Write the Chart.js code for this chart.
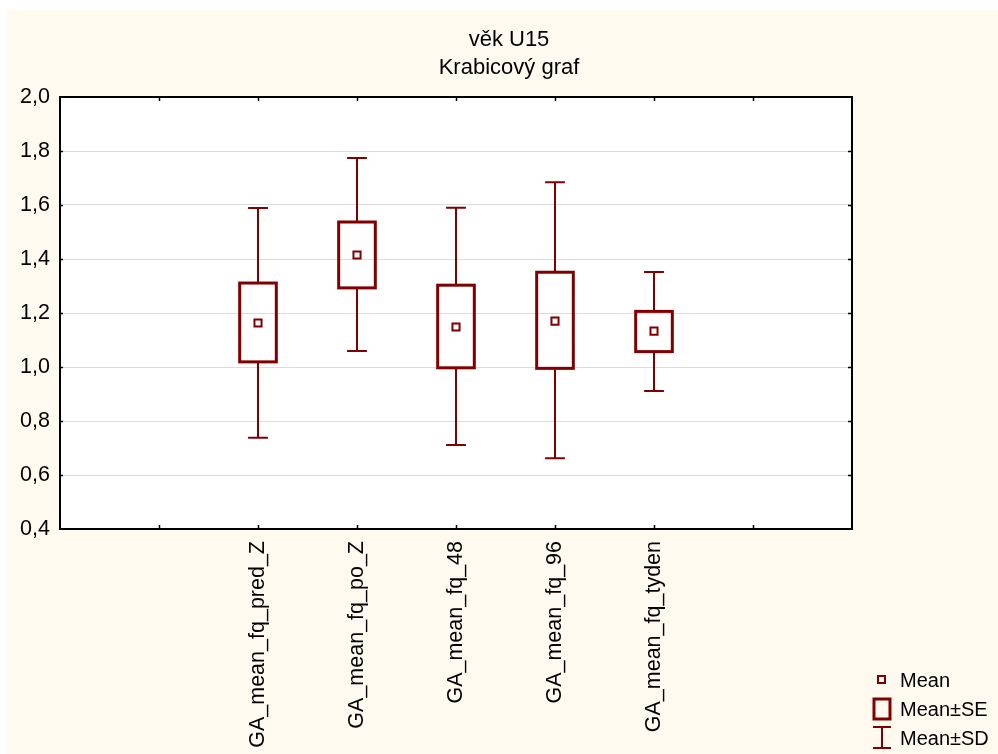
<!DOCTYPE html>
<html>
<head>
<meta charset="utf-8">
<script src="https://cdn.jsdelivr.net/npm/chart.js@4/dist/chart.umd.min.js"></script>
<style>
html,body{margin:0;padding:0;background:#fff;}
canvas{display:block;}
</style>
</head>
<body>
<canvas id="c" width="998" height="754"></canvas>
<script>
// ---- data ----
const categories = ["GA_mean_fq_pred_Z","GA_mean_fq_po_Z","GA_mean_fq_48","GA_mean_fq_96","GA_mean_fq_tyden"];
const means   = [1.163, 1.415, 1.148, 1.170, 1.133];
const seLow   = [1.019, 1.293, 0.997, 0.995, 1.057];
const seHigh  = [1.311, 1.537, 1.303, 1.351, 1.206];
const sdLow   = [0.738, 1.059, 0.711, 0.662, 0.911];
const sdHigh  = [1.589, 1.774, 1.590, 1.684, 1.352];
const titleLines = ["věk U15","Krabicový graf"];
const legendLabels = ["Mean","Mean±SE","Mean±SD"];
const yTicks = [0.4,0.6,0.8,1.0,1.2,1.4,1.6,1.8,2.0];

const RED = '#800000';
const FONT = '"Liberation Sans", Arial, sans-serif';

const boxPlugin = {
  id: 'boxPlugin',
  beforeDraw(chart) {
    const ctx = chart.ctx, a = chart.chartArea;
    ctx.save();
    ctx.fillStyle = '#ffffff';
    ctx.fillRect(0, 0, chart.width, chart.height);
    ctx.fillStyle = '#FFFAF0';
    ctx.fillRect(7, 10, chart.width - 7, chart.height - 10);
    ctx.fillStyle = '#ffffff';
    ctx.fillRect(a.left, a.top, a.right - a.left, a.bottom - a.top);
    ctx.restore();
  },
  beforeDatasetsDraw(chart) {
    const ctx = chart.ctx, xs = chart.scales.x, ys = chart.scales.y;
    ctx.save();
    ctx.strokeStyle = RED;
    categories.forEach((c, i) => {
      const x = xs.getPixelForValue(i);
      const hw = xs.getPixelForValue(i + 0.185) - x;
      const cw = xs.getPixelForValue(i + 0.1) - x;
      const yTop = ys.getPixelForValue(sdHigh[i]);
      const yBot = ys.getPixelForValue(sdLow[i]);
      const yS1 = ys.getPixelForValue(seHigh[i]);
      const yS0 = ys.getPixelForValue(seLow[i]);
      // whiskers
      ctx.lineWidth = 2;
      ctx.beginPath();
      ctx.moveTo(x, yTop); ctx.lineTo(x, yS1);
      ctx.moveTo(x, yS0); ctx.lineTo(x, yBot);
      ctx.moveTo(x - cw, yTop); ctx.lineTo(x + cw, yTop);
      ctx.moveTo(x - cw, yBot); ctx.lineTo(x + cw, yBot);
      ctx.stroke();
      // SE box
      ctx.lineWidth = 3;
      ctx.strokeRect(x - hw, yS1, 2 * hw, yS0 - yS1);
    });
    ctx.restore();
  },
  afterDraw(chart) {
    const ctx = chart.ctx, a = chart.chartArea, xs = chart.scales.x, ys = chart.scales.y;
    ctx.save();
    // frame
    ctx.strokeStyle = '#000';
    ctx.lineWidth = 2;
    ctx.strokeRect(a.left, a.top, a.right - a.left, a.bottom - a.top);
    // inward ticks
    ctx.lineWidth = 1.5;
    ctx.beginPath();
    for (let v = xs.min + 1; v < xs.max; v++) {
      const px = Math.round(xs.getPixelForValue(v)) + 0.5;
      ctx.moveTo(px, a.bottom); ctx.lineTo(px, a.bottom - 4);
      ctx.moveTo(px, a.top); ctx.lineTo(px, a.top + 4);
    }
    yTicks.slice(1, -1).forEach(v => {
      const py = Math.round(ys.getPixelForValue(v)) + 0.5;
      ctx.moveTo(a.left, py); ctx.lineTo(a.left + 3, py);
      ctx.moveTo(a.right, py); ctx.lineTo(a.right - 4, py);
    });
    ctx.stroke();
    // title
    ctx.fillStyle = '#000';
    ctx.font = '22px ' + FONT;
    ctx.textAlign = 'center';
    ctx.textBaseline = 'middle';
    ctx.fillText(titleLines[0], 509, 40);
    ctx.fillText(titleLines[1], 509, 68);
    // legend
    ctx.strokeStyle = RED;
    ctx.lineWidth = 2;
    ctx.strokeRect(878, 676, 7, 7);
    ctx.lineWidth = 3;
    ctx.strokeRect(874, 699, 16, 20);
    ctx.lineWidth = 2;
    ctx.beginPath();
    ctx.moveTo(882, 727); ctx.lineTo(882, 748);
    ctx.moveTo(873, 727); ctx.lineTo(891, 727);
    ctx.moveTo(873, 748); ctx.lineTo(891, 748);
    ctx.stroke();
    ctx.fillStyle = '#000';
    ctx.font = '20px ' + FONT;
    ctx.textAlign = 'left';
    ctx.fillText(legendLabels[0], 900, 681);
    ctx.fillText(legendLabels[1], 900, 710);
    ctx.fillText(legendLabels[2], 900, 739);
    ctx.restore();
  }
};

new Chart(document.getElementById('c'), {
  type: 'scatter',
  data: {
    datasets: [{
      label: 'Mean',
      data: means.map((m, i) => ({x: i, y: m})),
      pointStyle: 'rect',
      pointRadius: 5,
      pointBorderWidth: 2,
      pointBorderColor: RED,
      pointBackgroundColor: '#ffffff',
      pointHoverRadius: 5
    }]
  },
  options: {
    responsive: false,
    devicePixelRatio: 1,
    animation: false,
    events: [],
    layout: { padding: { left: 0, top: 97, right: 146, bottom: 0 } },
    plugins: { legend: { display: false }, title: { display: false }, tooltip: { enabled: false } },
    scales: {
      x: {
        type: 'linear',
        min: -2, max: 6,
        afterFit(s) { s.height = 225; },
        afterBuildTicks(s) {
          const t = [];
          for (let v = -2; v <= 6; v++) t.push({ value: v });
          s.ticks = t;
        },
        grid: { display: false, drawTicks: false },
        border: { display: false },
        ticks: {
          autoSkip: false,
          maxRotation: 90, minRotation: 90,
          padding: 12,
          color: '#000',
          font: { family: FONT, size: 21.5 },
          callback: (v) => (Number.isInteger(v) && v >= 0 && v < categories.length) ? categories[v] : ''
        }
      },
      y: {
        min: 0.4, max: 2.0,
        afterFit(s) { s.width = 60; },
        afterBuildTicks(s) { s.ticks = yTicks.map(v => ({ value: v })); },
        grid: { color: '#dcdcdc', lineWidth: 1, drawTicks: false },
        border: { display: false },
        ticks: {
          padding: 10,
          color: '#000',
          font: { family: FONT, size: 21.5 },
          callback: (v) => v.toFixed(1).replace('.', ',')
        }
      }
    }
  },
  plugins: [boxPlugin]
});
</script>
</body>
</html>
